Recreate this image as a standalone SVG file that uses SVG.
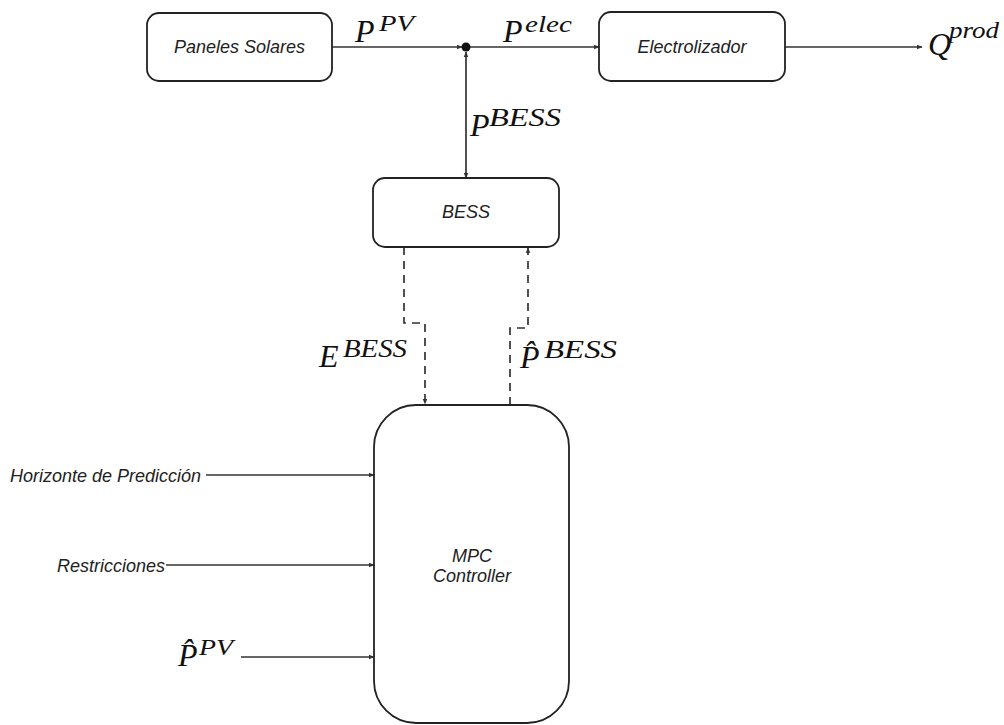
<svg xmlns="http://www.w3.org/2000/svg" width="1004" height="725" viewBox="0 0 1004 725">
<style>
.box{fill:#fff;stroke:#222;stroke-width:1.8}
.lbl{font-family:"Liberation Sans",Arial,sans-serif;font-style:italic;font-size:18px;fill:#222}
.math{font-family:"Liberation Serif","Times New Roman",serif;font-style:italic;fill:#111}
.m{font-size:32px}
.s{font-size:24px}
.sb{font-size:26px}
.ln{fill:none;stroke:#333;stroke-width:1.7}
.dash{fill:none;stroke:#333;stroke-width:1.7;stroke-dasharray:8 6}
</style>
<defs>
<marker id="ah" viewBox="0 0 10 10" refX="9" refY="5" markerWidth="6" markerHeight="6" orient="auto-start-reverse" markerUnits="userSpaceOnUse">
<path d="M0,1 L10,5 L0,9 Z" fill="#333"/>
</marker>
</defs>
<rect width="1004" height="725" fill="#fff"/>
<g id="connectors">
<line class="ln" x1="332" y1="47" x2="462" y2="47" marker-end="url(#ah)"/>
<line class="ln" x1="466" y1="47" x2="599" y2="47" marker-end="url(#ah)"/>
<line class="ln" x1="466" y1="52" x2="466" y2="178" marker-start="url(#ah)" marker-end="url(#ah)"/>
<line class="ln" x1="785" y1="47" x2="922" y2="47" marker-end="url(#ah)"/>
<polyline class="dash" points="404,247 404,323 425,323 425,404" marker-end="url(#ah)"/>
<polyline class="dash" points="510,405 510,328 528,328 528,248" marker-end="url(#ah)"/>
<line class="ln" x1="206" y1="475" x2="374" y2="475" marker-end="url(#ah)"/>
<line class="ln" x1="166" y1="565" x2="374" y2="565" marker-end="url(#ah)"/>
<line class="ln" x1="241" y1="657" x2="374" y2="657" marker-end="url(#ah)"/>
<circle cx="466" cy="47" r="4.5" fill="#111"/>
</g>
<g id="paneles">
<rect class="box" x="147" y="13" width="185" height="68" rx="12"/>
<text class="lbl" x="239.5" y="53" text-anchor="middle">Paneles Solares</text>
</g>
<g id="electrolizador">
<rect class="box" x="599" y="12" width="186" height="69" rx="12"/>
<text class="lbl" x="692" y="53" text-anchor="middle">Electrolizador</text>
</g>
<g id="bess">
<rect class="box" x="373" y="178" width="186" height="69" rx="12"/>
<text class="lbl" x="466" y="218" text-anchor="middle">BESS</text>
</g>
<g id="mpc">
<rect class="box" x="374" y="405" width="195" height="318" rx="42"/>
<text class="lbl" x="472" y="562" text-anchor="middle">MPC</text>
<text class="lbl" x="472" y="582" text-anchor="middle">Controller</text>
</g>
<g id="labels">
<text class="lbl" x="10" y="482">Horizonte de Predicción</text>
<text class="lbl" x="57" y="572">Restricciones</text>
<text class="math"><tspan class="m" x="355" y="42">P</tspan><tspan class="s" x="379" y="31" textLength="35" lengthAdjust="spacingAndGlyphs">PV</tspan></text>
<text class="math"><tspan class="m" x="503" y="42">P</tspan><tspan class="s" x="525" y="32" textLength="47" lengthAdjust="spacingAndGlyphs">elec</tspan></text>
<text class="math"><tspan class="m" x="928" y="55">Q</tspan><tspan class="s" x="949" y="38" textLength="50" lengthAdjust="spacingAndGlyphs">prod</tspan></text>
<text class="math"><tspan class="m" x="470" y="136">P</tspan><tspan class="sb" x="489" y="126" textLength="72" lengthAdjust="spacingAndGlyphs">BESS</tspan></text>
<text class="math"><tspan class="m" x="319" y="367">E</tspan><tspan class="sb" x="343" y="357" textLength="64" lengthAdjust="spacingAndGlyphs">BESS</tspan></text>
<text class="math"><tspan class="m" x="520" y="368">P̂</tspan><tspan class="sb" x="544" y="358" textLength="73" lengthAdjust="spacingAndGlyphs">BESS</tspan></text>
<text class="math"><tspan class="m" x="178" y="666">P̂</tspan><tspan class="s" x="199" y="655" textLength="34" lengthAdjust="spacingAndGlyphs">PV</tspan></text>
</g>
</svg>
